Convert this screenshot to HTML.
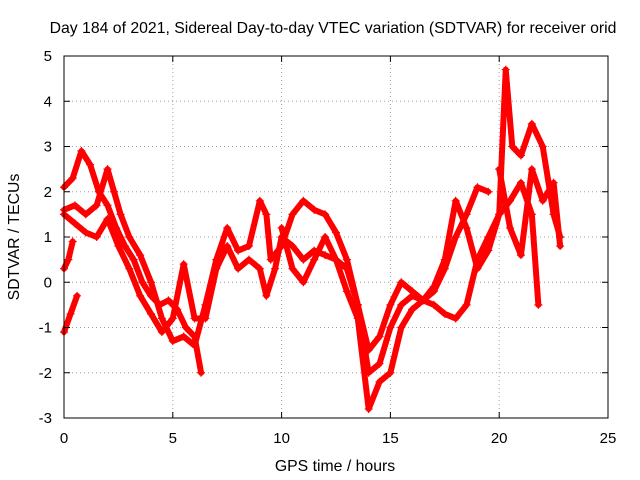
<!DOCTYPE html>
<html><head><meta charset="utf-8"><style>
body{margin:0;background:#fff;}
svg{display:block;font-family:"Liberation Sans",sans-serif;}
</style></head><body>
<svg id="chart" width="640" height="480" viewBox="0 0 640 480">
<rect width="640" height="480" fill="#fff"/>
<text x="333" y="33" font-size="15.8" text-anchor="middle">Day 184 of 2021, Sidereal Day-to-day VTEC variation (SDTVAR) for receiver orid</text>
<g id="grid"></g>
<g id="series"></g>
<rect x="64" y="56" width="544" height="362" fill="none" stroke="#000" stroke-width="1"/>
<g id="ticks"></g>
<text x="335" y="471" font-size="15.8" text-anchor="middle">GPS time / hours</text>
<text transform="translate(19,237) rotate(-90)" font-size="15.8" text-anchor="middle">SDTVAR / TECUs</text>
</svg>
<script>
const xTicks=[0,5,10,15,20,25];
const yTicks=[-3,-2,-1,0,1,2,3,4,5];
const s1x=[0,0.4,0.8,1.2,1.6,2.0,2.4,2.8,3.2,3.6,4.0,4.4,4.8,5.2,5.6,6.0,6.3];
const s1y=[2.1,2.3,2.9,2.6,2.0,1.7,1.2,0.8,0.5,0.0,-0.3,-0.5,-0.4,-0.6,-1.0,-1.2,-2.0];
const s2x=[0,0.5,1.0,1.5,2.0,2.3,2.6,3.0,3.5,4.0,4.5,5.0,5.5,6.0,6.5,7.0,7.5,8.0,8.5,9.0,9.3,9.5,10.0,10.5,11.0,11.5,12.0,12.5,13.0,13.5,14.0,14.5,15.0,15.5,16.0,16.5,17.0,17.5,18.0,18.5,19.0,19.5,20.0,20.3,20.6,21.0,21.5,22.0,22.5,22.8];
const s2y=[1.6,1.7,1.5,1.7,2.5,2.0,1.5,1.0,0.6,0.0,-0.8,-1.3,-1.2,-1.4,-0.5,0.5,1.2,0.7,0.8,1.8,1.5,0.5,0.8,1.5,1.8,1.6,1.5,1.1,0.5,-0.5,-2.0,-1.8,-1.0,-0.5,-0.3,-0.4,-0.1,0.5,1.8,1.2,0.3,0.7,1.5,4.7,3.0,2.8,3.5,3.0,1.5,1.0];
const s3x=[0,0.3,0.6];
const s3y=[-1.1,-0.7,-0.3];
const s4x=[0,0.2,0.4];
const s4y=[0.3,0.5,0.9];
const s5x=[0,0.5,1.0,1.5,2.0,2.5,3.0,3.5,4.0,4.5,5.0,5.5,6.0,6.5,7.0,7.5,8.0,8.5,9.0,9.3,9.7,10.0,10.5,11,11.5,12.0,12.5,13.0,13.5,14.0,14.5,15.0,15.5,16,16.5,17,17.5,18.0,18.5,19.0,19.5,20.0,20.5,21,21.5,21.8];
const s5y=[1.5,1.3,1.1,1.0,1.4,0.8,0.3,-0.3,-0.7,-1.1,-0.8,0.4,-0.8,-0.8,0.3,0.8,0.3,0.5,0.3,-0.3,0.3,1.0,0.8,0.5,0.7,0.6,0.5,-0.2,-0.8,-2.8,-2.2,-2.0,-1.0,-0.6,-0.4,-0.5,-0.7,-0.8,-0.5,0.5,1.0,1.5,1.8,2.2,1.5,-0.5];
const s6x=[10,10.5,11,11.5,12.0,12.5,13,13.5,14,14.5,15,15.5,16,16.5,17,17.5,18,18.5,19,19.5];
const s6y=[1.2,0.3,0.0,0.5,1.0,0.5,0.3,-0.5,-1.5,-1.2,-0.5,0,-0.2,-0.4,-0.2,0.3,1.0,1.5,2.1,2.0];
const s7x=[20,20.5,21,21.5,22,22.5,22.8];
const s7y=[2.5,1.2,0.6,2.5,1.8,2.2,0.8];
const series=[[s1x,s1y],[s2x,s2y],[s3x,s3y],[s4x,s4y],[s5x,s5y],[s6x,s6y],[s7x,s7y]];
const X=v=>64+v*544/25, Y=v=>418-(v+3)*362/8;
const NS="http://www.w3.org/2000/svg";
const grid=document.getElementById('grid'),ticks=document.getElementById('ticks'),sg=document.getElementById('series');
function mk(t,a,p){const e=document.createElementNS(NS,t);for(const k in a)e.setAttribute(k,a[k]);p.appendChild(e);return e;}
xTicks.forEach(v=>{
 const x=X(v);
 if(v>0&&v<25){const g=mk('line',{x1:x,x2:x,y1:56,y2:418,stroke:'#a0a0a0','stroke-dasharray':'1,3'},grid);
 
 }
 mk('line',{x1:x,x2:x,y1:418,y2:412,stroke:'#000'},ticks);mk('line',{x1:x,x2:x,y1:56,y2:62,stroke:'#000'},ticks);
 const t=mk('text',{x:x,y:443,'font-size':15,'text-anchor':'middle'},ticks);t.textContent=v;
 
 
});
yTicks.forEach(v=>{
 const y=Y(v);
 if(v>-3&&v<5){const g=mk('line',{x1:64,x2:608,y1:y,y2:y,stroke:'#a0a0a0','stroke-dasharray':'1,3'},grid);
 
 }
 mk('line',{x1:64,x2:70,y1:y,y2:y,stroke:'#000'},ticks);mk('line',{x1:608,x2:602,y1:y,y2:y,stroke:'#000'},ticks);
 const t=mk('text',{x:52,y:y+5,'font-size':15,'text-anchor':'end'},ticks);t.textContent=v;
 
 
});
series.forEach((s,i)=>{
 const [xs,ys]=s;
 const pts=xs.map((x,j)=>X(x)+','+Y(ys[j])).join(' ');
 const pl=mk('polyline',{points:pts,fill:'none',stroke:'#f00','stroke-width':6,'stroke-linejoin':'round','stroke-linecap':'round'},sg);
 
 
 xs.forEach((x,j)=>{
  const px=X(x),py=Y(ys[j]);
  const p=mk('path',{d:`M${px-4},${py}h8M${px},${py-4}v8`,stroke:'#f00','stroke-width':1.2},sg);
  
  
 });
});
</script>
</body></html>
